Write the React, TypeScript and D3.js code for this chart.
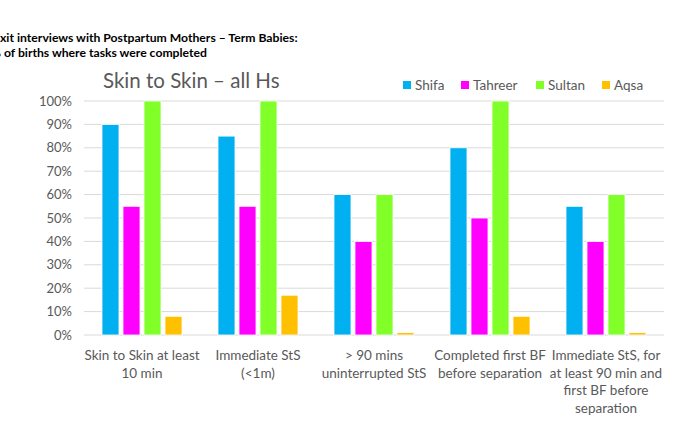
import { scaleBand, scaleLinear } from "d3";

const categories = [
  ["Skin to Skin at least", "10 min"],
  ["Immediate StS", "(<1m)"],
  ["> 90 mins", "uninterrupted StS"],
  ["Completed first BF", "before separation"],
  ["Immediate StS, for", "at least 90 min and", "first BF before", "separation"],
];
const seriesNames = ["Shifa", "Tahreer", "Sultan", "Aqsa"];
const seriesColors = ["#00B0F0", "#FF00FF", "#80FF28", "#FFC000"];
const shifa = [90, 85, 60, 80, 55];
const tahreer = [55, 55, 40, 50, 40];
const sultan = [100, 100, 60, 100, 60];
const aqsa = [8, 17, 1, 8, 1];
const yTickValues = [0, 10, 20, 30, 40, 50, 60, 70, 80, 90, 100];

const values = [shifa, tahreer, sultan, aqsa];
const font = "Lato, 'Open Sans', sans-serif";
const grey = "#595959";

export default function App() {
  const width = 700;
  const height = 441;
  const margin = { top: 101, right: 36, bottom: 106, left: 84 };

  const x0 = scaleBand<number>()
    .domain(categories.map((_, i) => i))
    .range([margin.left, width - margin.right])
    .paddingInner(0.31)
    .paddingOuter(0.155);
  const x1 = scaleBand<number>()
    .domain(seriesNames.map((_, i) => i))
    .range([0, x0.bandwidth()])
    .paddingInner(0.19);
  const y = scaleLinear()
    .domain([0, 100])
    .range([height - margin.bottom, margin.top]);

  const legendX = [403, 461, 536, 602];

  return (
    <svg
      width={width}
      height={height}
      style={{ position: "fixed", left: 0, top: 0, background: "#fff" }}
    >
      {/* heading is cropped at the left edge, as in the source slide */}
      <text x={-7} y={42} fontFamily={font} fontWeight="bold" fontSize={12.2} fill="#000">
        Exit interviews with Postpartum Mothers – Term Babies:
      </text>
      <text x={-9} y={57} fontFamily={font} fontWeight="bold" fontSize={12.2} fill="#000">
        % of births where tasks were completed
      </text>
      <text x={103} y={88} fontFamily={font} fontSize={20.5} fill={grey}>
        Skin to Skin – all Hs
      </text>

      {seriesNames.map((name, i) => (
        <g key={name} transform={`translate(${legendX[i]}, 85)`}>
          <rect x={0} y={-4} width={8} height={8} fill={seriesColors[i]} />
          <text x={12} y={5} fontFamily={font} fontSize={13.5} fill={grey}>
            {name}
          </text>
        </g>
      ))}

      {yTickValues.map((t) => (
        <g key={t}>
          <line
            x1={margin.left}
            x2={width - margin.right}
            y1={y(t)}
            y2={y(t)}
            stroke="#D9D9D9"
            strokeWidth={1}
          />
          <text
            x={72}
            y={y(t)}
            dy={4.5}
            textAnchor="end"
            fontFamily={font}
            fontSize={13}
            fill={grey}
          >
            {t}%
          </text>
        </g>
      ))}

      {categories.map((lines, ci) => (
        <g key={ci} transform={`translate(${x0(ci)}, 0)`}>
          {values.map((vals, si) => (
            <rect
              key={si}
              x={x1(si)}
              y={y(vals[ci])}
              width={x1.bandwidth()}
              height={y(0) - y(vals[ci])}
              fill={seriesColors[si]}
              stroke="#fff"
              strokeWidth={0.8}
            />
          ))}
          {lines.map((line, li) => (
            <text
              key={li}
              x={x0.bandwidth() / 2}
              y={360 + li * 17.7}
              textAnchor="middle"
              fontFamily={font}
              fontSize={13.5}
              fill={grey}
            >
              {line}
            </text>
          ))}
        </g>
      ))}
    </svg>
  );
}
